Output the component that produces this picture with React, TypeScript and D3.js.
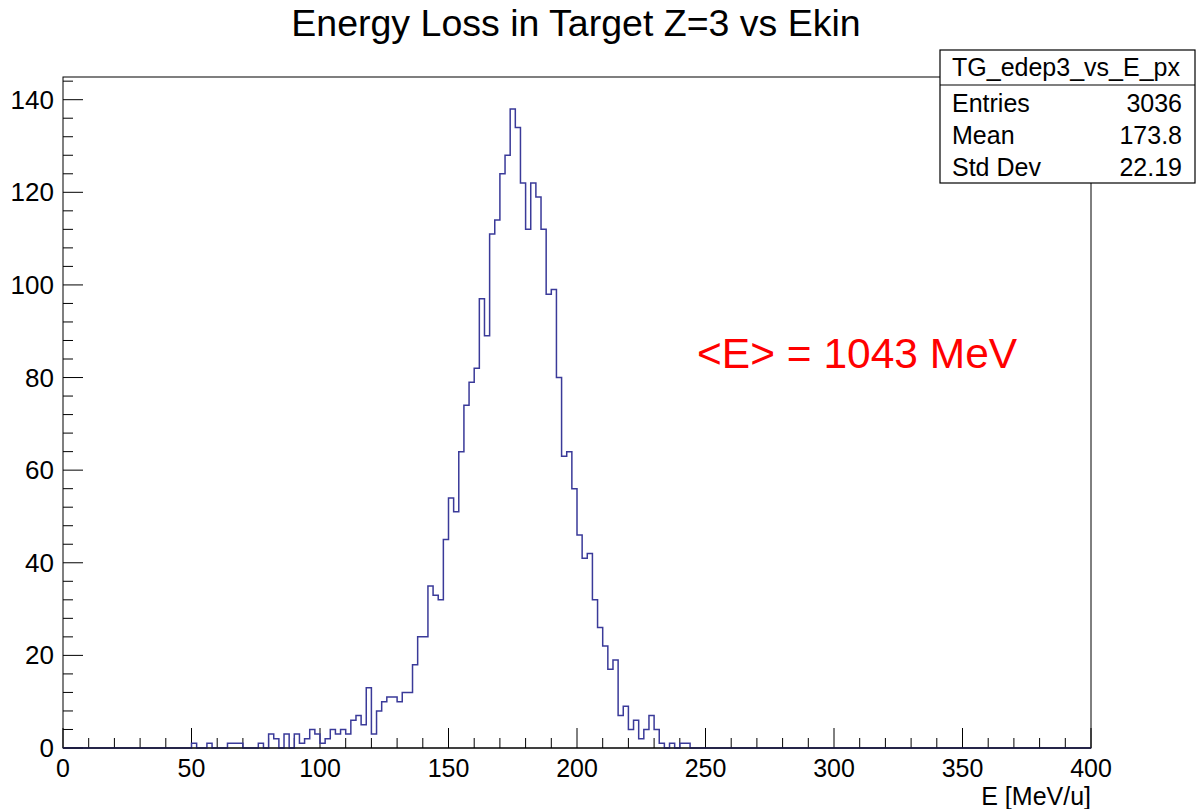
import React from "react";
import * as d3 from "d3";

// Histogram binning (MeV/u)
const X_MIN = 0;
const X_MAX = 400;
const BIN_WIDTH = 2;
const FIRST_FILLED_BIN = 50; // lower edge of first listed bin

// Counts per 2 MeV/u bin, starting at 50 MeV/u
const counts: number[] = [
  1, 0, 0, 1, 0, 0, 0, 1, 1, 1, // 50-68
  0, 0, 0, 1, 0, 3, 2, 0, 3, 0, // 70-88
  3, 1, 2, 4, 3, 1, 2, 4, 3, 4, // 90-108
  3, 6, 7, 5, 13, 3, 8, 10, 11, 11, // 110-128
  10, 12, 12, 18, 24, 24, 35, 33, 32, 45, // 130-148
  54, 51, 64, 74, 79, 82, 97, 89, 111, 114, // 150-168
  124, 128, 138, 134, 122, 112, 122, 119, 112, 98, // 170-188
  99, 80, 63, 64, 56, 46, 41, 42, 32, 26, // 190-208
  22, 17, 19, 7, 9, 4, 6, 2, 4, 7, // 210-228
  4, 1, 0, 1, 0, 1, 1, // 230-242
];

const xTickLabels = [0, 50, 100, 150, 200, 250, 300, 350, 400];
const yTickLabels = [0, 20, 40, 60, 80, 100, 120, 140];

const statsName = "TG_edep3_vs_E_px";
const statsRows: [string, string][] = [
  ["Entries", "3036"],
  ["Mean", "173.8"],
  ["Std Dev", "22.19"],
];

const title = "Energy Loss in Target Z=3 vs Ekin";
const xTitle = "E [MeV/u]";
const annotation = "<E> = 1043 MeV";

const W = 1196;
const H = 809;
const FONT = "'Liberation Sans', Arial, Helvetica, sans-serif";

export default function App() {
  const left = 63;
  const right = 1091;
  const top = 77;
  const bottom = 748;

  const yMax = d3.max(counts)! * 1.05;
  const x = d3.scaleLinear().domain([X_MIN, X_MAX]).range([left, right]);
  const y = d3.scaleLinear().domain([0, yMax]).range([bottom, top]);

  // full set of bins over the axis range
  const nBins = (X_MAX - X_MIN) / BIN_WIDTH;
  const bins = d3.range(nBins).map((i) => {
    const lo = X_MIN + i * BIN_WIDTH;
    const k = (lo - FIRST_FILLED_BIN) / BIN_WIDTH;
    const c = k >= 0 && k < counts.length ? counts[k] : 0;
    return { lo, c };
  });
  const pts: [number, number][] = bins.map((b) => [b.lo, b.c]);
  pts.push([X_MAX, bins[bins.length - 1].c]);
  const stepLine = d3
    .line<[number, number]>()
    .x((d) => x(d[0]))
    .y((d) => y(d[1]))
    .curve(d3.curveStepAfter);

  const xMinor = d3.range(X_MIN, X_MAX + 0.001, 10);
  const yMinor = d3.range(0, yMax, 4);

  const boxL = 940;
  const boxR = 1195;
  const boxT = 50;
  const boxHead = 85;
  const boxB = 183;

  return (
    <svg
      width={W}
      height={H}
      style={{ position: "absolute", left: 0, top: 0, background: "#fff" }}
      fontFamily={FONT}
    >
      <rect x={0} y={0} width={W} height={H} fill="#fff" />
      <text x={576} y={36} textAnchor="middle" fontSize={37.5} fill="#000">
        {title}
      </text>

      {/* frame */}
      <rect
        x={left}
        y={top}
        width={right - left}
        height={bottom - top}
        fill="none"
        stroke="#000"
        strokeWidth={1}
      />

      {/* x axis ticks */}
      {xMinor.map((v) => {
        const major = v % 50 === 0;
        return (
          <line
            key={"xt" + v}
            x1={x(v)}
            x2={x(v)}
            y1={bottom}
            y2={bottom - (major ? 20 : 10)}
            stroke="#000"
            strokeWidth={1}
          />
        );
      })}
      {xTickLabels.map((v) => (
        <text
          key={"xl" + v}
          x={x(v)}
          y={777}
          textAnchor="middle"
          fontSize={25}
          fill="#000"
        >
          {v}
        </text>
      ))}
      <text x={right} y={805} textAnchor="end" fontSize={25} fill="#000">
        {xTitle}
      </text>

      {/* y axis ticks */}
      {yMinor.map((v) => {
        const major = v % 20 === 0;
        return (
          <line
            key={"yt" + v}
            x1={left}
            x2={left + (major ? 20 : 10)}
            y1={y(v)}
            y2={y(v)}
            stroke="#000"
            strokeWidth={1}
          />
        );
      })}
      {yTickLabels.map((v) => (
        <text
          key={"yl" + v}
          x={54}
          y={y(v) + 9}
          textAnchor="end"
          fontSize={26}
          fill="#000"
        >
          {v}
        </text>
      ))}

      {/* histogram outline */}
      <path
        d={stepLine(pts) ?? ""}
        fill="none"
        stroke="#3a3a99"
        strokeWidth={1.5}
      />
      <line x1={left} x2={right} y1={bottom} y2={bottom} stroke="#000" strokeWidth={1.2} />

      {/* annotation */}
      <text x={697} y={368} fontSize={42.5} fill="#ff0000">
        {annotation}
      </text>

      {/* stats box */}
      <rect
        x={boxL}
        y={boxT}
        width={boxR - boxL}
        height={boxB - boxT}
        fill="#fff"
        stroke="#000"
        strokeWidth={1.2}
      />
      <line x1={boxL} x2={boxR} y1={boxHead} y2={boxHead} stroke="#000" strokeWidth={1.2} />
      <text x={1066} y={76} textAnchor="middle" fontSize={25} fill="#000">
        {statsName}
      </text>
      {statsRows.map((r, i) => (
        <g key={r[0]}>
          <text x={952} y={112 + i * 32} fontSize={25} fill="#000">
            {r[0]}
          </text>
          <text x={1182} y={112 + i * 32} textAnchor="end" fontSize={25} fill="#000">
            {r[1]}
          </text>
        </g>
      ))}
    </svg>
  );
}
